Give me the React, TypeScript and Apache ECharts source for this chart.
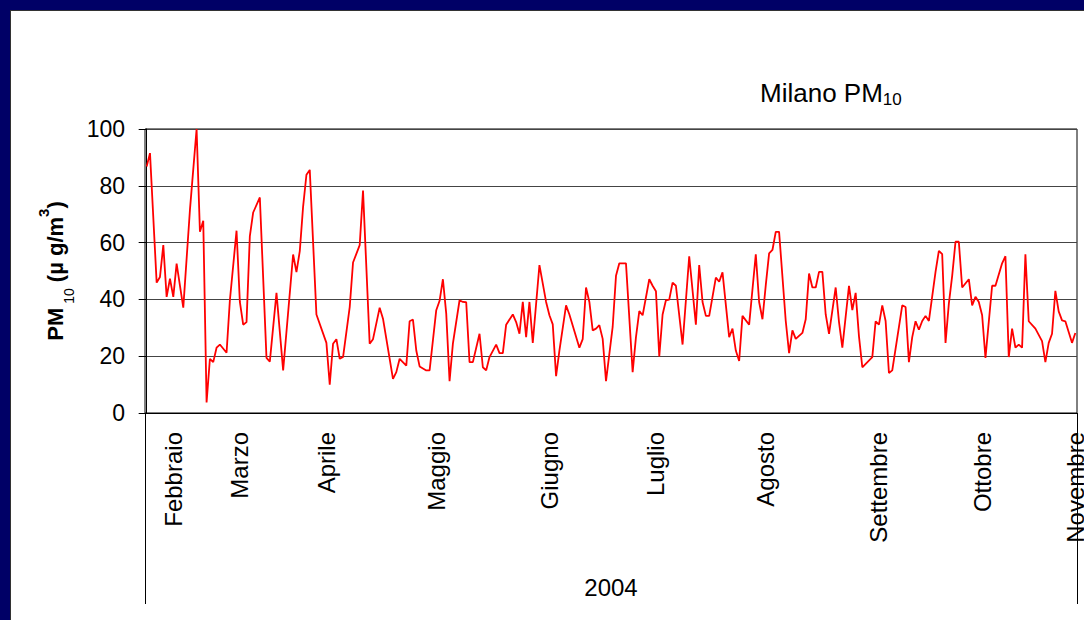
import React, { useEffect, useRef } from "react";
import * as echarts from "echarts";

// Day index (0 = first daily reading) of each visible vertex of the line, and its PM10 value (µg/m³)
const days = [
  0, 1, 3, 4, 5, 6, 7, 8, 9, 11, 13, 15, 16, 17, 18, 19, 20, 21, 22, 24, 25, 27, 28, 29, 30, 31, 32, 34, 36, 37,
  39, 41, 44, 45, 46, 47, 48, 49, 51, 54, 55, 56, 57, 58, 59, 61, 62, 64, 65, 67, 68, 70, 71, 74, 75, 76, 78, 79,
  80, 81, 82, 84, 85, 86, 87, 88, 89, 90, 91, 92, 94, 95, 96, 97, 98, 100, 101, 102, 103, 105, 106, 107, 108, 110,
  111, 112, 113, 114, 115, 116, 118, 120, 121, 122, 123, 124, 126, 127, 130, 131, 132, 133, 134, 135, 136, 137,
  138, 140, 141, 142, 144, 146, 147, 148, 149, 151, 152, 153, 154, 155, 156, 157, 158, 159, 161, 163, 165, 166,
  167, 168, 169, 171, 172, 173, 175, 176, 177, 178, 179, 181, 183, 184, 185, 186, 187, 188, 189, 190, 192, 193,
  194, 195, 197, 198, 199, 200, 201, 202, 203, 204, 205, 207, 208, 209, 211, 212, 213, 214, 215, 218, 219, 220,
  221, 222, 223, 224, 227, 228, 229, 230, 231, 232, 233, 234, 235, 237, 238, 239, 240, 241, 242, 243, 244, 245,
  247, 248, 249, 250, 251, 252, 254, 255, 257, 258, 259, 260, 261, 262, 263, 264, 265, 267, 269, 270, 271, 272,
  273, 274, 275, 276, 278, 279,
];
const pm10 = [
  86.8, 91.5, 45.9, 47.9, 59.1, 40.9, 47.3, 40.9, 52.6, 37.1, 71.5, 100, 63.8, 67.7, 3.7, 19.1, 17.9, 23, 24.1, 21.2,
  39.7, 64.2, 39.1, 31.1, 32, 62.3, 70.6, 75.9, 19.4, 18.1, 42.3, 15, 55.8, 49.6, 57, 72.7, 83.9, 85.6, 34.7, 24.7,
  10, 24.4, 26, 19.1, 19.7, 37.3, 53, 59.1, 78.3, 24.4, 26, 37.1, 33.2, 12, 14.4, 19.1, 16.7, 32.3, 32.9, 22, 16.4,
  15, 15, 25.6, 36.2, 39.5, 47.1, 35, 11.2, 24.4, 39.7, 39.1, 39, 17.9, 17.9, 27.9, 16.1, 15, 19.7, 24.1, 21.1, 21.1,
  31.1, 34.7, 32, 27.9, 39.1, 26.7, 39.1, 24.7, 52.1, 39.1, 34.4, 31.2, 13, 22, 37.9, 34.7, 23, 26, 44.2, 39.1, 29.1,
  29.7, 30.9, 26.1, 11.2, 30.3, 48.3, 52.7, 52.7, 14.4, 26.7, 35.9, 34.4, 47.1, 44.8, 42.9, 19.9, 34.7, 39.7, 39.9,
  45.9, 44.8, 24.1, 55.2, 31.1, 52.1, 39.1, 34.2, 34.2, 47.7, 46.2, 49.5, 26.7, 29.7, 22, 18.3, 34.2, 31.1, 55.9,
  39.1, 33, 45, 56.2, 57.4, 63.8, 63.8, 32.4, 21.1, 29.1, 26.1, 28.2, 33, 49.1, 44.2, 44.2, 49.7, 49.7, 34.7, 27.9,
  44.2, 32, 23, 44.8, 36.2, 42.3, 27, 16.1, 19.7, 32.3, 31.1, 37.9, 32.4, 14.1, 15, 37.9, 37.3, 17.9, 26.7, 32.3,
  29.3, 32.4, 34.2, 32.4, 49.7, 57.1, 55.9, 24.7, 38.5, 48.3, 60.3, 60.3, 44.2, 47.1, 37.9, 40.9, 39.1, 34.4, 19.4,
  44.8, 44.8, 52.7, 55.2, 19.7, 29.7, 23, 24.1, 23, 55.9, 32.3, 29.7, 25.3, 17.9, 24.7, 27.9, 43, 35.8, 32.6, 32.3,
  24.7, 28.2,
];

// Month labels of the category axis and the day index at which each is written
const monthNames = ["Febbraio", "Marzo", "Aprile", "Maggio", "Giugno", "Luglio", "Agosto", "Settembre", "Ottobre", "Novembre"];
const monthDays = [8, 28, 54, 87, 121, 153, 186, 220, 251, 279];
const yearLabel = "2004";
const dayCount = 280;

const FONT = "'Liberation Sans', Arial, Helvetica, sans-serif";

export default function App() {
  const ref = useRef<HTMLDivElement>(null);

  useEffect(() => {
    document.body.style.margin = "0";
    const chart = echarts.init(ref.current as HTMLDivElement, null, { renderer: "svg" });
    chart.setOption({
      animation: false,
      textStyle: { fontFamily: FONT },
      title: {
        text: "{a|Milano PM}{s|10}",
        left: 760,
        top: 78,
        padding: 0,
        textStyle: {
          fontWeight: "normal",
          rich: {
            a: { fontSize: 26, lineHeight: 30, fontWeight: "normal", color: "#000", fontFamily: FONT },
            s: { fontSize: 17, lineHeight: 20, fontWeight: "normal", verticalAlign: "bottom", color: "#000", fontFamily: FONT },
          },
        },
      },
      grid: {
        left: 145,
        right: 7,
        top: 129,
        bottom: 207,
        show: true,
        borderColor: "#000",
        borderWidth: 1,
        backgroundColor: "transparent",
        outerBoundsMode: "none",
        containLabel: false,
      },
      xAxis: {
        type: "value",
        min: -0.5,
        max: dayCount - 0.5,
        axisLine: { show: true, lineStyle: { color: "#000", width: 1 } },
        axisTick: { show: false },
        splitLine: { show: false },
        axisLabel: {
          customValues: monthDays,
          rotate: 90,
          margin: 19,
          fontSize: 24,
          color: "#000",
          fontFamily: FONT,
          formatter: (v: number) => {
            const k = monthDays.indexOf(Math.round(v));
            return k >= 0 ? monthNames[k] : "";
          },
        },
      },
      yAxis: {
        type: "value",
        min: 0,
        max: 100,
        interval: 20,
        axisLine: { show: true, lineStyle: { color: "#000", width: 1 } },
        axisTick: { show: true, inside: false, length: 8, lineStyle: { color: "#000", width: 1 } },
        axisLabel: { fontSize: 23, margin: 20, color: "#000", fontFamily: FONT },
        splitLine: { show: true, lineStyle: { color: "#444", width: 1 } },
        name: "{b|PM}{s| 10}{b| (µ g/m}{p|3}{b|)}",
        nameLocation: "middle",
        nameRotate: 90,
        nameGap: 61,
        nameTextStyle: {
          rich: {
            b: { fontSize: 22, fontWeight: "bold", lineHeight: 40, color: "#000", fontFamily: FONT },
            s: { fontSize: 14, lineHeight: 34, verticalAlign: "bottom", color: "#000", fontFamily: FONT },
            p: { fontSize: 15, fontWeight: "bold", lineHeight: 15, verticalAlign: "top", color: "#000", fontFamily: FONT },
          },
        },
      },
      series: [
        {
          type: "line",
          data: days.map((d, i) => [d, pm10[i]]),
          showSymbol: false,
          symbol: "none",
          lineStyle: { color: "#ff0000", width: 1.8 },
          itemStyle: { color: "#ff0000" },
          z: 3,
        },
      ],
      graphic: [
        {
          type: "line",
          shape: { x1: 145.5, y1: 413, x2: 145.5, y2: 604 },
          style: { stroke: "#000", lineWidth: 1 },
        },
        {
          type: "line",
          shape: { x1: 1077.5, y1: 413, x2: 1077.5, y2: 604 },
          style: { stroke: "#000", lineWidth: 1 },
        },
        {
          type: "text",
          x: 611,
          y: 587,
          style: {
            text: yearLabel,
            fontSize: 24,
            fontFamily: FONT,
            fill: "#000",
            align: "center",
            verticalAlign: "middle",
            textAlign: "center",
            textVerticalAlign: "middle",
          },
        },
      ],
    });
    return () => chart.dispose();
  }, []);

  return (
    <div style={{ position: "fixed", left: 0, top: 0, width: 1084, height: 620, background: "#000066" }}>
      <div
        style={{
          position: "absolute",
          left: 10,
          top: 10,
          right: 0,
          bottom: 0,
          background: "#fff",
          borderLeft: "1px solid #333",
          borderTop: "1px solid #333",
          boxSizing: "border-box",
        }}
      />
      <div ref={ref} style={{ position: "absolute", left: 0, top: 0, width: 1084, height: 620 }} />
    </div>
  );
}
